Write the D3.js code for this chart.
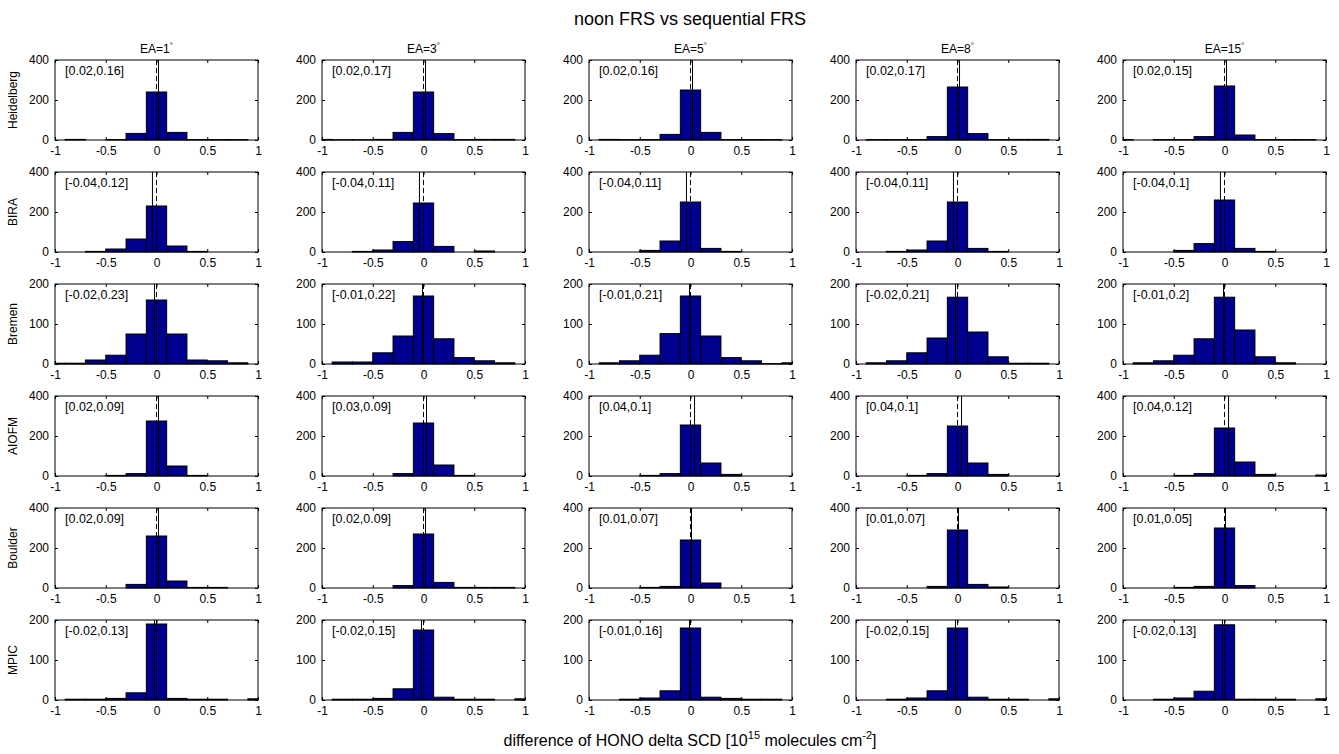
<!DOCTYPE html>
<html>
<head>
<meta charset="utf-8">
<script src="https://cdn.jsdelivr.net/npm/d3@7"></script>
<style>
  body { margin: 0; background: #fff; }
  svg { font-family: "Liberation Sans", Arial, sans-serif; }
  .tick text { font-size: 12px; fill: #000; }
  .domain { display: none; }
  .tick line { stroke: #000; }
</style>
</head>
<body>
<svg id="hists" width="1339" height="754"></svg>
<script>
// bin centers of the histograms (matlab hist, -1:0.2:1)
const binCenters = [-1, -0.8, -0.6, -0.4, -0.2, 0, 0.2, 0.4, 0.6, 0.8, 1];
const elevAngles = ['1', '3', '5', '8', '15'];
const groups = ['Heidelberg', 'BIRA', 'Bremen', 'AIOFM', 'Boulder', 'MPIC'];
const yMaxes = [400, 400, 200, 400, 400, 200];
const yTicks = [[0, 200, 400], [0, 200, 400], [0, 100, 200], [0, 200, 400], [0, 200, 400], [0, 100, 200]];

// [mean, std] for each group, one entry per EA
const statsHeidelberg = [[0.02, 0.16], [0.02, 0.17], [0.02, 0.16], [0.02, 0.17], [0.02, 0.15]];
const statsBIRA       = [[-0.04, 0.12], [-0.04, 0.11], [-0.04, 0.11], [-0.04, 0.11], [-0.04, 0.1]];
const statsBremen     = [[-0.02, 0.23], [-0.01, 0.22], [-0.01, 0.21], [-0.02, 0.21], [-0.01, 0.2]];
const statsAIOFM      = [[0.02, 0.09], [0.03, 0.09], [0.04, 0.1], [0.04, 0.1], [0.04, 0.12]];
const statsBoulder    = [[0.02, 0.09], [0.02, 0.09], [0.01, 0.07], [0.01, 0.07], [0.01, 0.05]];
const statsMPIC       = [[-0.02, 0.13], [-0.02, 0.15], [-0.01, 0.16], [-0.02, 0.15], [-0.02, 0.13]];

// counts per bin
const countsHeidelberg = [
  [0, 3, 0, 2, 33, 240, 38, 2, 2, 2, 0],
  [3, 1, 1, 3, 38, 240, 32, 2, 3, 3, 0],
  [0, 3, 2, 2, 28, 250, 38, 2, 2, 2, 0],
  [0, 2, 2, 2, 17, 265, 32, 2, 3, 3, 0],
  [2, 0, 2, 2, 17, 270, 25, 2, 2, 2, 0]];
const countsBIRA = [
  [0, 0, 3, 15, 65, 230, 30, 3, 0, 0, 0],
  [0, 0, 3, 10, 52, 245, 28, 0, 5, 0, 0],
  [0, 0, 0, 8, 55, 250, 18, 3, 0, 0, 0],
  [0, 0, 3, 10, 55, 250, 18, 3, 0, 0, 0],
  [0, 0, 0, 8, 42, 260, 18, 3, 0, 0, 0]];
const countsBremen = [
  [2, 2, 10, 22, 75, 160, 75, 10, 8, 3, 0],
  [0, 5, 5, 28, 70, 170, 63, 16, 8, 3, 0],
  [0, 3, 8, 22, 76, 170, 70, 16, 8, 1, 3],
  [0, 3, 8, 28, 65, 167, 80, 18, 2, 2, 0],
  [0, 3, 8, 22, 63, 167, 85, 18, 3, 0, 0]];
const countsAIOFM = [
  [0, 0, 0, 3, 12, 275, 50, 3, 0, 0, 0],
  [0, 0, 0, 0, 12, 265, 55, 3, 0, 0, 0],
  [0, 0, 0, 3, 12, 255, 65, 8, 0, 0, 0],
  [0, 0, 0, 3, 12, 250, 65, 8, 0, 0, 0],
  [0, 0, 0, 3, 12, 240, 70, 8, 0, 0, 5]];
const countsBoulder = [
  [0, 0, 0, 0, 18, 260, 35, 3, 3, 0, 0],
  [0, 0, 0, 0, 12, 270, 28, 3, 3, 3, 0],
  [0, 0, 0, 3, 8, 240, 25, 0, 0, 0, 0],
  [0, 0, 0, 0, 8, 290, 18, 5, 0, 0, 0],
  [0, 0, 0, 3, 8, 300, 12, 0, 0, 0, 0]];
const countsMPIC = [
  [0, 2, 2, 4, 18, 190, 4, 2, 2, 0, 3],
  [0, 2, 2, 4, 28, 175, 7, 2, 2, 0, 3],
  [0, 0, 2, 5, 23, 180, 7, 4, 2, 2, 0],
  [0, 0, 2, 5, 23, 180, 7, 2, 2, 0, 3],
  [0, 0, 2, 5, 22, 188, 2, 2, 2, 0, 3]];

const allCounts = [countsHeidelberg, countsBIRA, countsBremen, countsAIOFM, countsBoulder, countsMPIC];
const allStats = [statsHeidelberg, statsBIRA, statsBremen, statsAIOFM, statsBoulder, statsMPIC];

const svg = d3.select('svg#hists');

// layout of the subplot grid
const plotW = 203, plotH = 80;
const colLeft = d3.range(5).map(i => 55 + i * 267);
const rowTop = d3.range(6).map(i => 60 + i * 112);
const barColor = '#00008f';

svg.append('text')
  .attr('x', 690).attr('y', 25)
  .attr('text-anchor', 'middle')
  .style('font-size', '18px')
  .text('noon FRS vs sequential FRS');

groups.forEach((grp, r) => {
  elevAngles.forEach((ea, c) => {
    const left = colLeft[c], top = rowTop[r];
    const g = svg.append('g').attr('transform', `translate(${left},${top})`);

    const x = d3.scaleLinear().domain([-1, 1]).range([0, plotW]);
    const y = d3.scaleLinear().domain([0, yMaxes[r]]).range([plotH, 0]);

    g.append('rect')
      .attr('width', plotW).attr('height', plotH)
      .attr('fill', '#fff');

    const bins = binCenters.map((b, i) => ({
      x0: Math.max(b - 0.1, -1),
      x1: Math.min(b + 0.1, 1),
      n: allCounts[r][c][i]
    }));

    g.selectAll('rect.bar')
      .data(bins)
      .enter()
      .append('rect')
      .attr('class', 'bar')
      .attr('x', d => x(d.x0))
      .attr('width', d => x(d.x1) - x(d.x0))
      .attr('y', d => y(d.n))
      .attr('height', d => y(0) - y(d.n))
      .style('fill', barColor)
      .style('stroke', '#000')
      .style('stroke-width', 1);

    const [mu, sd] = allStats[r][c];
    // solid line at the mean, dashed at zero
    g.append('line')
      .attr('x1', x(mu)).attr('x2', x(mu))
      .attr('y1', 0).attr('y2', plotH)
      .style('stroke', '#000').style('stroke-width', 1);
    g.append('line')
      .attr('x1', x(0)).attr('x2', x(0))
      .attr('y1', 0).attr('y2', plotH)
      .style('stroke', '#000').style('stroke-width', 1)
      .style('stroke-dasharray', '5,3');

    g.append('text')
      .attr('x', 10).attr('y', 15)
      .style('font-size', '12.5px')
      .text(`[${mu},${sd}]`);

    const fmt = d => String(d);
    g.append('g')
      .attr('transform', `translate(0,${plotH})`)
      .call(d3.axisBottom(x).tickValues([-1, -0.5, 0, 0.5, 1]).tickSizeInner(-3).tickSizeOuter(0).tickPadding(6).tickFormat(fmt));
    g.append('g')
      .call(d3.axisTop(x).tickValues([-1, -0.5, 0, 0.5, 1]).tickSizeInner(-3).tickSizeOuter(0).tickFormat(''));
    g.append('g')
      .call(d3.axisLeft(y).tickValues(yTicks[r]).tickSizeInner(-3).tickSizeOuter(0).tickPadding(6).tickFormat(fmt));
    g.append('g')
      .attr('transform', `translate(${plotW},0)`)
      .call(d3.axisRight(y).tickValues(yTicks[r]).tickSizeInner(-3).tickSizeOuter(0).tickFormat(''));

    g.append('rect')
      .attr('width', plotW).attr('height', plotH)
      .attr('fill', 'none')
      .style('stroke', '#000').style('stroke-width', 1);

    if (r === 0) {
      const t = g.append('text')
        .attr('x', plotW / 2).attr('y', -7)
        .attr('text-anchor', 'middle')
        .style('font-size', '12px');
      t.append('tspan').text(`EA=${ea}`);
      t.append('tspan').attr('dy', -5).style('font-size', '8px').text('°');
    }
    if (c === 0) {
      g.append('text')
        .attr('transform', `translate(-38,${plotH / 2}) rotate(-90)`)
        .attr('text-anchor', 'middle')
        .style('font-size', '12px')
        .text(grp);
    }
  });
});

const xl = svg.append('text')
  .attr('x', 690).attr('y', 746)
  .attr('text-anchor', 'middle')
  .style('font-size', '16px');
xl.append('tspan').text('difference of HONO delta SCD [10');
xl.append('tspan').attr('dy', -7).style('font-size', '11px').text('15');
xl.append('tspan').attr('dy', 7).text(' molecules cm');
xl.append('tspan').attr('dy', -7).style('font-size', '11px').text('-2');
xl.append('tspan').attr('dy', 7).text(']');
</script>
</body>
</html>
